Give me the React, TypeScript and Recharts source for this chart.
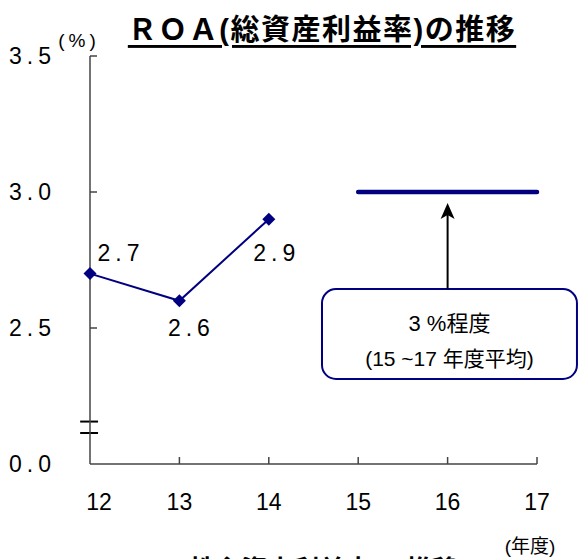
import { LineChart, Line, XAxis, YAxis, ReferenceLine, ReferenceArea } from "recharts";

// fiscal years (H12 .. H17)
const years = [12, 13, 14, 15, 16, 17];
const xTickLabels = ["12", "13", "14", "15", "16", "17"];
// ROA actuals (%)
const roa = [2.7, 2.6, 2.9, null, null, null];
// target: about 3% average for FY15-17
const target = [null, null, null, 3.0, 3.0, 3.0];
// broken axis: the bottom tick stands for 0.0
const yTicks = [2.0, 2.5, 3.0, 3.5];
const yTickLabels = ["0.0", "2.5", "3.0", "3.5"];

const data = years.map((year, i) => ({ year, roa: roa[i], target: target[i] }));

const NAVY = "#000080";
const AXIS = "#444444";
const LATIN = "'Liberation Sans', Arial, 'Noto Sans CJK JP', sans-serif";

function YTick({ x, y, payload }: any) {
    const v = payload.value;
    const label = yTickLabels[yTicks.indexOf(v)];
    return (
        <g>
            {v !== yTicks[0] && <line x1={x} x2={x + 7} y1={y} y2={y} stroke={AXIS} strokeWidth={1.5} />}
            <text x={x - 34} y={y} textAnchor="end" dominantBaseline="central" fontFamily={LATIN} fontSize={23} letterSpacing={5} fill="#000">
                {label}
            </text>
        </g>
    );
}

function XTick({ x, y, payload, index }: any) {
    const label = xTickLabels[years.indexOf(payload.value)];
    return (
        <g>
            {index > 0 && <line x1={x} x2={x} y1={y} y2={y - 7} stroke={AXIS} strokeWidth={1.5} />}
            <text x={index === 0 ? x + 9 : x} y={y + 38} textAnchor="middle" dominantBaseline="central" fontFamily={LATIN} fontSize={23} fill="#000">
                {label}
            </text>
        </g>
    );
}

function Diamond({ cx, cy, value }: any) {
    if (value == null || cx == null || cy == null) return <g />;
    const r = 6.5;
    return <polygon points={`${cx},${cy - r} ${cx + r},${cy} ${cx},${cy + r} ${cx - r},${cy}`} fill={NAVY} />;
}

function RoaLabel({ x, y, value, index }: any) {
    if (value == null) return null;
    const off = [
        [29, -21],
        [10, 27],
        [6, 34],
    ][index] || [0, -20];
    return (
        <text x={x + off[0] + 2} y={y + off[1]} textAnchor="middle" dominantBaseline="central" fontFamily={LATIN} fontSize={23} letterSpacing={5} fill="#000">
            {value.toFixed(1)}
        </text>
    );
}

function Arrow({ x1, y1, x2, y2 }: any) {
    const top = Math.min(y1, y2);
    const bottom = Math.max(y1, y2);
    return (
        <g>
            <line x1={x1} x2={x2} y1={bottom} y2={top + 12} stroke="#000" strokeWidth={2} />
            <polygon points={`${x1},${top} ${x1 + 7},${top + 16} ${x1},${top + 12} ${x1 - 7},${top + 16}`} fill="#000" />
        </g>
    );
}

function TargetBox({ x, y, width, height }: any) {
    const cx = x + width / 2;
    return (
        <g>
            <rect x={x} y={y} width={width} height={height} rx={14} ry={14} fill="#fff" stroke={NAVY} strokeWidth={2} />
            <text x={cx} y={y + 34} textAnchor="middle" dominantBaseline="central" fontFamily={LATIN} fontSize={22} fill="#000">
                3 %程度
            </text>
            <text x={cx} y={y + 69} textAnchor="middle" dominantBaseline="central" fontFamily={LATIN} fontSize={21} fill="#000">
                (15 ~17 年度平均)
            </text>
        </g>
    );
}

function BreakMark({ x, y, width, height }: any) {
    return (
        <g>
            <rect x={x + 4} y={y + 1} width={width - 8} height={height - 2} fill="#fff" />
            <line x1={x} x2={x + width} y1={y} y2={y} stroke="#000" strokeWidth={2} />
            <line x1={x} x2={x + width} y1={y + height} y2={y + height} stroke="#000" strokeWidth={2} />
        </g>
    );
}

export default function App() {
    return (
        <div style={{ position: "absolute", left: 0, top: 0, width: 580, height: 559, background: "#fff", overflow: "hidden" }}>
            <LineChart width={580} height={559} data={data} margin={{ top: 56, right: 43, bottom: 0, left: 0 }}>
                <XAxis
                    dataKey="year"
                    type="number"
                    domain={[12, 17]}
                    ticks={years}
                    height={95}
                    tickSize={0}
                    tickMargin={0}
                    tickLine={false}
                    stroke={AXIS}
                    strokeWidth={1.5}
                    tick={<XTick />}
                    interval={0}
                />
                <YAxis
                    type="number"
                    domain={[2, 3.5]}
                    ticks={yTicks}
                    width={90}
                    tickSize={0}
                    tickMargin={0}
                    tickLine={false}
                    stroke={AXIS}
                    strokeWidth={1.5}
                    tick={<YTick />}
                    interval={0}
                />
                <ReferenceArea x1={11.89} x2={12.09} y1={2.114} y2={2.156} ifOverflow="visible" shape={<BreakMark />} />
                <ReferenceArea x1={14.595} x2={17.447} y1={2.3125} y2={2.643} ifOverflow="visible" shape={<TargetBox />} />
                <ReferenceLine segment={[{ x: 16, y: 2.643 }, { x: 16, y: 2.96 }]} ifOverflow="visible" shape={<Arrow />} />
                <Line
                    dataKey="target"
                    stroke={NAVY}
                    strokeWidth={4.5}
                    strokeLinecap="round"
                    dot={false}
                    activeDot={false}
                    isAnimationActive={false}
                />
                <Line
                    dataKey="roa"
                    stroke={NAVY}
                    strokeWidth={2}
                    dot={<Diamond />}
                    activeDot={false}
                    label={<RoaLabel />}
                    isAnimationActive={false}
                />
            </LineChart>
            <svg width={580} height={559} style={{ position: "absolute", left: 0, top: 0, pointerEvents: "none" }}>
                <text x={322} y={30} textAnchor="middle" dominantBaseline="central" fontFamily={LATIN} fontWeight="bold" fontSize={29} letterSpacing={1.5} textDecoration="underline" fill="#000">
                    ＲＯＡ(総資産利益率)の推移
                </text>
                <text x={79} y={40} textAnchor="middle" dominantBaseline="central" fontFamily={LATIN} fontSize={19} letterSpacing={4} fill="#000">
                    (%)
                </text>
                <text x={530} y={546} textAnchor="middle" dominantBaseline="central" fontFamily={LATIN} fontSize={19} fill="#000">
                    (年度)
                </text>
                <text x={458} y={579} textAnchor="end" fontFamily={LATIN} fontWeight="bold" fontSize={26} fill="#000">
                    ＲＯＥ(株主資本利益率)の推移
                </text>
            </svg>
        </div>
    );
}
